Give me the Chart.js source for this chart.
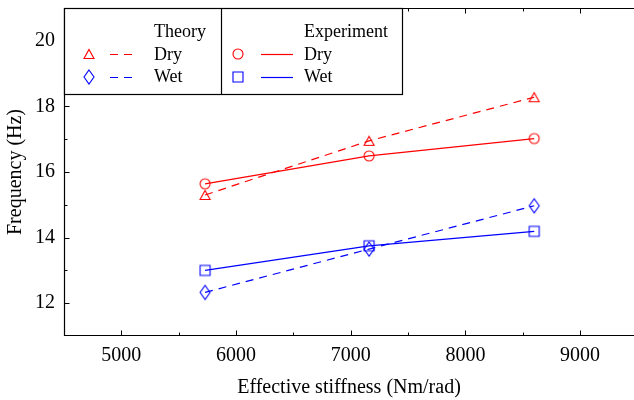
<!DOCTYPE html>
<html>
<head>
<meta charset="utf-8">
<script src="https://cdn.jsdelivr.net/npm/chart.js@4.4.1/dist/chart.umd.min.js"></script>
<style>
  html, body { margin: 0; padding: 0; background: #fff; }
</style>
</head>
<body>
<canvas id="graficoFrequencia" width="634" height="400"></canvas>
<script>
// valores
const stiffness = [5730, 7160, 8600];
const theoryDry = [15.3, 16.95, 18.28];
const theoryWet = [12.33, 13.65, 14.97];
const expDry = [15.64, 16.49, 17.02];
const expWet = [13.0, 13.75, 14.19];

const xTicks = [5000, 6000, 7000, 8000, 9000];
const xMinorTicks = [5500, 6500, 7500, 8500];
const yTicks = [12, 14, 16, 18, 20];
const yMinorTicks = [13, 15, 17, 19];

const FONT = '"Liberation Serif", "DejaVu Serif", serif';
const RED = "#ff0000";
const BLUE = "#0000ff";

// marcadores desenhados num canvas pequeno, usados como pointStyle
function criarMarcador(forma, cor) {
  const c = document.createElement("canvas");
  c.width = 16;
  c.height = 18;
  const g = c.getContext("2d");
  const cx = 8, cy = 9;
  g.strokeStyle = cor;
  g.lineWidth = 1.1;
  g.beginPath();
  if (forma === "triangle") {
    g.moveTo(cx, cy - 4.5);
    g.lineTo(cx + 5, cy + 4.5);
    g.lineTo(cx - 5, cy + 4.5);
    g.closePath();
  } else if (forma === "circle") {
    g.arc(cx, cy, 5, 0, Math.PI * 2);
  } else if (forma === "square") {
    g.rect(cx - 5, cy - 5, 10, 10);
  } else if (forma === "diamond") {
    g.moveTo(cx, cy - 7);
    g.lineTo(cx + 5, cy);
    g.lineTo(cx, cy + 7);
    g.lineTo(cx - 5, cy);
    g.closePath();
  }
  g.stroke();
  return c;
}

const mkTriangle = criarMarcador("triangle", RED);
const mkCircle = criarMarcador("circle", RED);
const mkDiamond = criarMarcador("diamond", BLUE);
const mkSquare = criarMarcador("square", BLUE);

function pontos(valores) {
  return stiffness.map((x, i) => ({ x: x, y: valores[i] }));
}

// moldura, ticks para dentro e legenda em caixa
const molduraPlugin = {
  id: "moldura",
  beforeDatasetsDraw(chart) {
    const ctx = chart.ctx;
    const a = chart.chartArea;
    const xs = chart.scales.x;
    const ys = chart.scales.y;
    const l = Math.round(a.left) + 0.5;
    const t = Math.round(a.top) + 0.5;
    const b = Math.round(a.bottom) - 0.5;
    ctx.save();
    ctx.strokeStyle = "#000";
    ctx.lineWidth = 1.2;
    ctx.beginPath();
    ctx.moveTo(chart.width, t);
    ctx.lineTo(l, t);
    ctx.lineTo(l, b);
    ctx.lineTo(chart.width, b);
    ctx.stroke();

    ctx.lineWidth = 1;
    ctx.beginPath();
    const marcaX = (v, len) => {
      const px = Math.round(xs.getPixelForValue(v)) + 0.5;
      ctx.moveTo(px, b);
      ctx.lineTo(px, b - len);
      ctx.moveTo(px, t);
      ctx.lineTo(px, t + len);
    };
    const marcaY = (v, len) => {
      const py = Math.round(ys.getPixelForValue(v)) + 0.5;
      ctx.moveTo(l, py);
      ctx.lineTo(l + len, py);
    };
    xTicks.forEach((v) => marcaX(v, 5));
    xMinorTicks.forEach((v) => marcaX(v, 3));
    yTicks.forEach((v) => marcaY(v, 5));
    yMinorTicks.forEach((v) => marcaY(v, 3));
    ctx.stroke();
    ctx.restore();
  },
  afterDraw(chart) {
    const ctx = chart.ctx;
    const left = 64.5, top = 8.5, right = 402.5, bottom = 94.5, meio = 221.5;
    ctx.save();
    ctx.fillStyle = "#fff";
    ctx.fillRect(left, top, right - left, bottom - top);
    ctx.strokeStyle = "#000";
    ctx.lineWidth = 1.2;
    ctx.strokeRect(left, top, right - left, bottom - top);
    ctx.beginPath();
    ctx.moveTo(meio, top);
    ctx.lineTo(meio, bottom);
    ctx.stroke();

    ctx.font = "18px " + FONT;
    ctx.fillStyle = "#000";
    ctx.textBaseline = "alphabetic";
    ctx.textAlign = "left";

    const colunas = [
      { titulo: "Theory", mx: 89, x1: 110, x2: 137, tx: 154, dash: [8, 6],
        itens: [["Dry", mkTriangle, RED], ["Wet", mkDiamond, BLUE]] },
      { titulo: "Experiment", mx: 238, x1: 261, x2: 293, tx: 304, dash: [],
        itens: [["Dry", mkCircle, RED], ["Wet", mkSquare, BLUE]] },
    ];
    const linhasY = [54, 77];
    const baseY = [60, 82];
    colunas.forEach((col) => {
      ctx.fillText(col.titulo, col.tx, 37);
      col.itens.forEach((item, i) => {
        const [txt, mk, cor] = item;
        ctx.drawImage(mk, col.mx - mk.width / 2, linhasY[i] - mk.height / 2);
        ctx.strokeStyle = cor;
        ctx.lineWidth = 1.2;
        ctx.setLineDash(col.dash);
        ctx.beginPath();
        ctx.moveTo(col.x1, linhasY[i] + 0.5);
        ctx.lineTo(col.x2, linhasY[i] + 0.5);
        ctx.stroke();
        ctx.setLineDash([]);
        ctx.fillText(txt, col.tx, baseY[i]);
      });
    });
    ctx.restore();
  },
};

Chart.defaults.color = "#000";
Chart.defaults.font.family = FONT;

const ctxGrafico = document.getElementById("graficoFrequencia").getContext("2d");

new Chart(ctxGrafico, {
  type: "scatter",
  data: {
    datasets: [
      {
        label: "Theory Dry",
        data: pontos(theoryDry),
        showLine: true,
        borderColor: RED,
        borderWidth: 1.2,
        borderDash: [8, 6],
        pointStyle: mkTriangle,
      },
      {
        label: "Theory Wet",
        data: pontos(theoryWet),
        showLine: true,
        borderColor: BLUE,
        borderWidth: 1.2,
        borderDash: [8, 6],
        pointStyle: mkDiamond,
      },
      {
        label: "Experiment Dry",
        data: pontos(expDry),
        showLine: true,
        borderColor: RED,
        borderWidth: 1.2,
        pointStyle: mkCircle,
      },
      {
        label: "Experiment Wet",
        data: pontos(expWet),
        showLine: true,
        borderColor: BLUE,
        borderWidth: 1.2,
        pointStyle: mkSquare,
      },
    ],
  },
  options: {
    responsive: false,
    animation: false,
    events: [],
    layout: { autoPadding: false, padding: { top: 8, right: 0, left: 0, bottom: 0 } },
    plugins: {
      legend: { display: false },
      tooltip: { enabled: false },
    },
    scales: {
      x: {
        type: "linear",
        min: 4500,
        max: 9470,
        grid: { display: false, drawTicks: false },
        border: { display: false },
        afterBuildTicks: (scale) => {
          scale.ticks = xTicks.map((v) => ({ value: v }));
        },
        afterFit: (scale) => {
          scale.height = 64;
          scale.paddingLeft = 0;
          scale.paddingRight = 0;
        },
        ticks: {
          font: { size: 20 },
          padding: 8,
          maxRotation: 0,
          callback: (v) => String(v),
        },
        title: {
          display: true,
          text: "Effective stiffness (Nm/rad)",
          font: { size: 20 },
          padding: { top: 0, bottom: 0 },
        },
      },
      y: {
        type: "linear",
        min: 11,
        max: 21,
        grid: { display: false, drawTicks: false },
        border: { display: false },
        afterBuildTicks: (scale) => {
          scale.ticks = yTicks.map((v) => ({ value: v }));
        },
        afterFit: (scale) => {
          scale.width = 64;
          scale.paddingTop = 0;
          scale.paddingBottom = 0;
        },
        ticks: {
          font: { size: 20 },
          padding: 9,
          callback: (v) => String(v),
        },
        title: {
          display: true,
          text: "Frequency (Hz)",
          font: { size: 20 },
          padding: { top: 4, bottom: 0 },
        },
      },
    },
  },
  plugins: [molduraPlugin],
});
</script>
</body>
</html>
